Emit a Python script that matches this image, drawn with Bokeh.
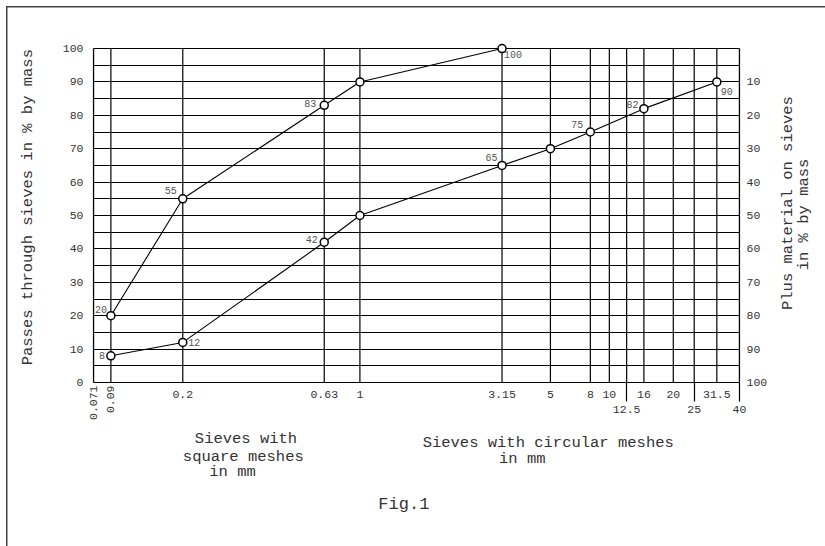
import math
import numpy as np
from bokeh.plotting import figure
from bokeh.models import (Range1d, LinearAxis, FixedTicker, CustomJSTickFormatter,
                          ColumnDataSource)
from bokeh.core.properties import value
from bokeh.embed import file_html
from bokeh.resources import INLINE

# ---------------------------------------------------------------- data
# sieve sizes (mm) and their graduation on the chart's non-linear abscissa (% of axis length)
sieve_sizes = [0.071, 0.09, 0.2, 0.63, 1, 3.15, 5, 8, 10, 12.5, 16, 20, 25, 31.5, 40]
sieve_graduation = [0, 2.69, 13.82, 35.72, 41.24, 63.24, 70.73, 76.91, 79.85,
                    82.53, 85.20, 89.75, 92.99, 96.49, 100]
sieve_labels = ["0.071", "0.09", "0.2", "0.63", "1", "3.15", "5", "8", "10",
                "12.5", "16", "20", "25", "31.5", "40"]
row1_labels = ["0.2", "0.63", "1", "3.15", "5", "8", "10", "16", "20", "31.5"]
row2_labels = ["12.5", "25", "40"]
vertical_labels = ["0.071", "0.09"]

upper_sizes = [0.09, 0.2, 0.63, 1, 3.15]
upper_pass = [20, 55, 83, 90, 100]
upper_tags = ["20", "55", "83", "", "100"]

lower_sizes = [0.09, 0.2, 0.63, 1, 3.15, 5, 8, 16, 31.5]
lower_pass = [8, 12, 42, 50, 65, 70, 75, 82, 90]
lower_tags = ["8", "12", "42", "", "65", "", "75", "82", "90"]

pass_ticks = list(range(0, 101, 10))
retained_ticks = list(range(10, 101, 10))
grid_steps = list(range(0, 101, 5))

# ---------------------------------------------------------------- styles
upper_dx = [-10, -12, -14, 0, 11]
upper_dy = [-6.5, -8, -1.5, 0, 6]
lower_dx = [-9, 11.5, -12.5, 0, -10.5, 0, -13, -11.5, 10]
lower_dy = [0, 0, -2.5, 0, -7.5, 0, -8, -4, 9.5]

FONT = "Liberation Mono"
TXT = "#333333"
LW = 1.2


def sieve_x(sizes):
    return list(np.interp(np.log10(sizes), np.log10(sieve_sizes), sieve_graduation))


def grad_of(label):
    return sieve_graduation[sieve_labels.index(label)]


def label_formatter(positions, texts):
    return CustomJSTickFormatter(args=dict(pos=list(positions), lab=list(texts)), code="""
        let best = 0, d = 1e9;
        for (let i = 0; i < pos.length; i++) {
            const e = Math.abs(pos[i] - tick);
            if (e < d) { d = e; best = i; }
        }
        return lab[best];
    """)


p = figure(width=825, height=546, x_range=Range1d(0, 100), y_range=Range1d(0, 103),
           toolbar_location=None, output_backend="svg",
           min_border_left=93, min_border_right=85, min_border_top=38, min_border_bottom=164,
           background_fill_color="white", border_fill_color=None,
           styles={"background-color": "white",
                   "background-image": "linear-gradient(#444444, #444444), "
                                       "linear-gradient(#444444, #444444)",
                   "background-size": "1.5px 100%, 100% 1.5px",
                   "background-position": "6px 6px, 6px 6px",
                   "background-repeat": "no-repeat"})
p.outline_line_color = None

# horizontal rulings every 5 %, vertical rulings at every sieve
p.xgrid.visible = False
p.ygrid.ticker = FixedTicker(ticks=grid_steps)
p.ygrid.grid_line_color = "black"
p.ygrid.grid_line_width = LW
p.ygrid.grid_line_alpha = 1.0
p.segment(x0=sieve_graduation, y0=[0] * len(sieve_graduation),
          x1=sieve_graduation, y1=[100] * len(sieve_graduation),
          line_color="black", line_width=LW)

# ---------------------------------------------------------------- main axes
xa = p.xaxis[0]
xa.ticker = FixedTicker(ticks=[grad_of(l) for l in row1_labels],
                        minor_ticks=[grad_of(l) for l in row2_labels])
xa.formatter = label_formatter(sieve_graduation, sieve_labels)
xa.major_tick_out = 0
xa.major_tick_in = 0
xa.minor_tick_out = 19
xa.minor_tick_in = 0
xa.minor_tick_line_color = "black"
xa.minor_tick_line_width = LW
xa.axis_line_color = "black"
xa.axis_line_width = LW
xa.major_label_standoff = -11

ya = p.yaxis[0]
ya.ticker = FixedTicker(ticks=pass_ticks)
ya.major_label_standoff = 10
ya.bounds = (0, 100)

p.extra_y_ranges = {"ret": Range1d(100, -3)}
ra = LinearAxis(y_range_name="ret", ticker=FixedTicker(ticks=retained_ticks))
ra.major_label_standoff = 7
ra.bounds = (0, 100)
p.add_layout(ra, "right")

for ax in (ya, ra):
    ax.major_tick_out = 0
    ax.major_tick_in = 0
    ax.minor_tick_out = 0
    ax.minor_tick_in = 0
    ax.axis_line_color = "black"
    ax.axis_line_width = LW
for ax in (xa, ya, ra):
    ax.major_label_text_font = FONT
    ax.major_label_text_font_size = "11.5px"
    ax.major_label_text_color = TXT


# ---------------------------------------------------------------- stacked label axes
def extra_axis(side, ticks, texts, standoff, size="15.5px", orientation="horizontal"):
    ax = LinearAxis(ticker=FixedTicker(ticks=list(ticks), minor_ticks=[]),
                    formatter=label_formatter(ticks, texts),
                    axis_line_color=None,
                    major_tick_in=0, major_tick_out=0, major_tick_line_color=None,
                    minor_tick_in=0, minor_tick_out=0, minor_tick_line_color=None,
                    major_label_standoff=standoff,
                    major_label_orientation=orientation,
                    major_label_text_font=FONT, major_label_text_font_size=size,
                    major_label_text_color=TXT)
    p.add_layout(ax, side)
    return ax


# second row of sieve labels and the vertical ones
extra_axis("below", [grad_of(l) for l in row2_labels], row2_labels, 5, size="11.5px")
extra_axis("below", [grad_of(l) for l in vertical_labels], vertical_labels, -30,
           size="11.5px", orientation=math.pi / 2)

# abscissa titles and figure caption
extra_axis("below", [23.61], ["Sieves with"], 6)
extra_axis("below", [70.39], ["Sieves with circular meshes"], -17)
extra_axis("below", [23.19], ["square meshes"], -7)
extra_axis("below", [66.37], ["in mm"], -19)
extra_axis("below", [21.52], ["in mm"], -8)
extra_axis("below", [48.04], ["Fig.1"], 11, size="17px")

# ordinate titles
extra_axis("left", [52.5], ["Passes through sieves in % by mass"], 22,
           orientation="vertical")
extra_axis("right", [21.7], ["Plus material on sieves"], 18, orientation=math.pi / 2)
extra_axis("right", [33.6], ["in % by mass"], -5, orientation=math.pi / 2)

# ---------------------------------------------------------------- curves
src_u = ColumnDataSource(dict(x=sieve_x(upper_sizes), y=upper_pass, t=upper_tags,
                              dx=upper_dx, dy=upper_dy))
src_l = ColumnDataSource(dict(x=sieve_x(lower_sizes), y=lower_pass, t=lower_tags,
                              dx=lower_dx, dy=lower_dy))
for src in (src_u, src_l):
    p.line("x", "y", source=src, line_color="black", line_width=1.1)
    p.scatter("x", "y", source=src, size=8, fill_color="white", line_color="black",
              line_width=1.5)
    p.text("x", "y", text="t", source=src, x_offset="dx", y_offset="dy",
           text_align="center", text_baseline="middle", text_font=value(FONT),
           text_font_size="10px", text_color="#555555")

open("out.html", "w").write(file_html(p, INLINE))
